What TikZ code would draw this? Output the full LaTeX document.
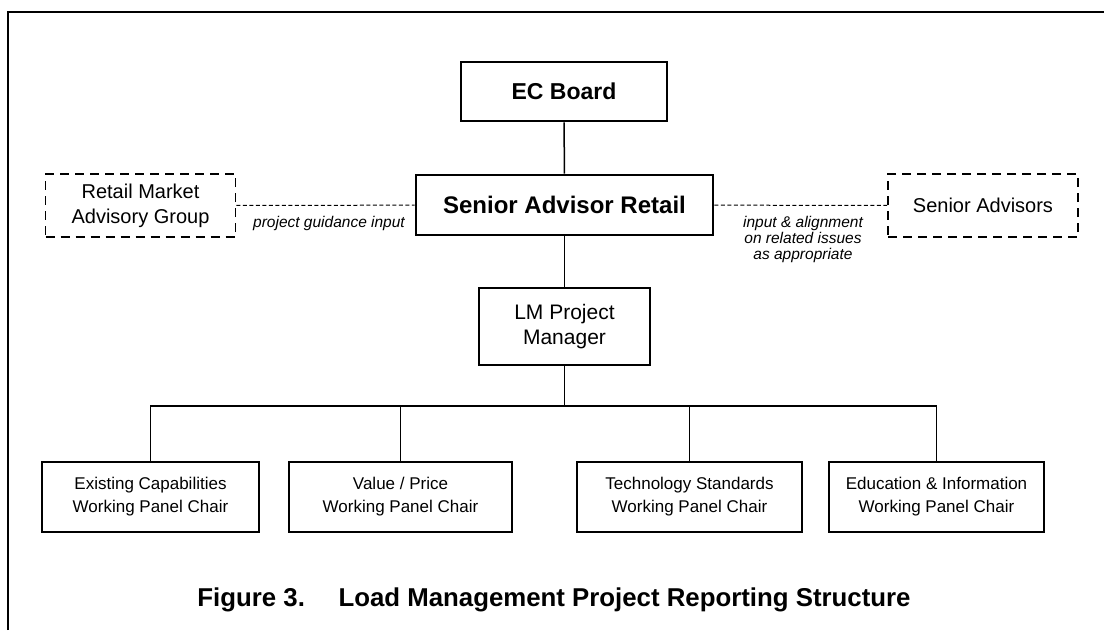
\documentclass[tikz,border=0pt]{standalone}
\usepackage{fontspec}
\setmainfont{Liberation Sans}
\newcommand{\fsz}[2]{\fontsize{#1}{#2}\selectfont}

\tikzset{
  unit/.style={draw, line width=2.8pt, inner sep=0pt, align=center},
  advisor/.style={draw, line width=1.8pt, dash pattern=on 9pt off 6pt, inner sep=0pt,
    align=center, minimum width=190pt, minimum height=63pt, font=\fsz{20}{25}},
  panel/.style={unit, minimum height=70pt, font=\fsz{17}{23}},
  link/.style={line width=1.5pt},
  liaison/.style={line width=1pt, dash pattern=on 4pt off 2.5pt},
  note/.style={align=center, font=\fsz{15.5}{16}\itshape}
}

\begin{document}
\begin{tikzpicture}[x=1pt, y=-1pt]
  \useasboundingbox (0,0) rectangle (1104,630);
  \draw[line width=1.3pt] (8,630) -- (8,12) -- (1104,12);

  \node[unit, minimum width=206pt, minimum height=59pt, font=\fsz{23}{27}\bfseries] (board) at (564,91.5) {EC Board};
  \node[unit, minimum width=297pt, minimum height=60pt, font=\fsz{24}{28}\bfseries] (retail) at (564.5,205) {Senior Advisor Retail};
  \node[unit, minimum width=171pt, minimum height=77pt, font=\fsz{21}{25}] (manager) at (564.5,326.5) {LM Project\\Manager};

  \node[advisor] (group) at (140.5,205.5) {Retail Market\\Advisory Group};
  \node[advisor] (seniors) at (983,205.5) {Senior Advisors};

  \node[panel, minimum width=217pt] (capab) at (150.5,497) {Existing Capabilities\\Working Panel Chair};
  \node[panel, minimum width=223pt] (value) at (400.5,497) {Value / Price\\Working Panel Chair};
  \node[panel, minimum width=225pt] (techno) at (689.5,497) {Technology Standards\\Working Panel Chair};
  \node[panel, minimum width=215pt] (educ) at (936.5,497) {Education \& Information\\Working Panel Chair};

  \coordinate (bus) at (564.5,406);

  \draw[link] (board) -- (retail);
  \draw[link] (retail) -- (manager);
  \draw[link] (manager) -- (bus);
  \draw[link] (capab.north) |- (bus) -| (educ.north);
  \draw[link] (value.north) -- (value.north |- bus);
  \draw[link] (techno.north) -- (techno.north |- bus);

  \draw[liaison] (group) -- (retail);
  \draw[liaison] (retail) -- (seniors);
  \node[note] (guidance) at (329,223) {project guidance input};
  \node[note] (alignment) at (803,239) {input \& alignment\\on related issues\\as appropriate};

  \node[font=\fsz{25.8}{30}\bfseries] (caption) at (554,600) {Figure 3.\hspace{1.3em}Load Management Project Reporting Structure};
\end{tikzpicture}
\end{document}
